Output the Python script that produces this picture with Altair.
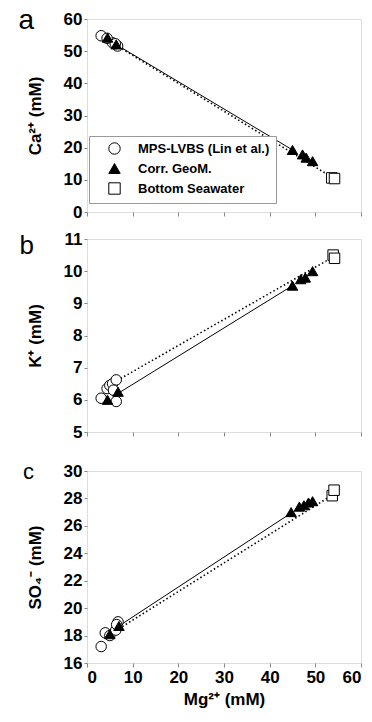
import altair as alt
import pandas as pd

SERIES = ["MPS-LVBS (Lin et al.)", "Corr. GeoM.", "Bottom Seawater"]

# ---- Panel a: Ca2+ vs Mg2+ ----
a_circ_mg = [3.1, 5.6, 6.7, 4.4, 6.2]
a_circ_val = [54.8, 52.6, 51.6, 54.0, 52.3]
a_tri_mg = [4.5, 6.4, 45.0, 47.2, 48.0, 49.4]
a_tri_val = [54.2, 52.1, 19.3, 17.9, 16.9, 15.8]
a_sq_mg = [53.6, 54.2]
a_sq_val = [10.6, 10.4]
a_solid_mg = [6.7, 45.0]
a_solid_val = [51.8, 19.3]
a_dot_mg = [3.2, 54.0]
a_dot_val = [54.6, 10.5]

# ---- Panel b: K+ vs Mg2+ ----
b_circ_mg = [3.1, 6.4, 4.4, 5.0, 5.6, 6.4, 5.8]
b_circ_val = [6.05, 5.95, 6.35, 6.45, 6.5, 6.62, 6.3]
b_tri_mg = [4.5, 6.8, 45.0, 46.8, 47.8, 49.4]
b_tri_val = [6.0, 6.25, 9.55, 9.75, 9.8, 10.0]
b_sq_mg = [53.9, 54.2]
b_sq_val = [10.5, 10.4]
b_solid_mg = [6.8, 45.0]
b_solid_val = [6.2, 9.55]
b_dot_mg = [6.6, 54.0]
b_dot_val = [6.6, 10.45]

# ---- Panel c: SO4- vs Mg2+ ----
c_circ_mg = [3.1, 4.0, 5.0, 6.3, 6.8, 6.5]
c_circ_val = [17.2, 18.2, 18.0, 18.4, 19.0, 18.8]
c_tri_mg = [5.0, 7.0, 44.7, 46.5, 47.5, 48.5, 49.4]
c_tri_val = [18.1, 18.7, 27.0, 27.4, 27.5, 27.7, 27.8]
c_sq_mg = [53.7, 54.1]
c_sq_val = [28.2, 28.6]
c_solid_mg = [7.0, 45.0]
c_solid_val = [18.7, 27.0]
c_dot_mg = [7.0, 53.5]
c_dot_val = [18.5, 28.2]

FONT = "Liberation Sans"
W = 274


def pts(cm, cv, tm, tv, sm, sv):
    rows = []
    for m, v in zip(cm, cv):
        rows.append({"Mg": m, "val": v, "series": SERIES[0]})
    for m, v in zip(tm, tv):
        rows.append({"Mg": m, "val": v, "series": SERIES[1]})
    for m, v in zip(sm, sv):
        rows.append({"Mg": m, "val": v, "series": SERIES[2]})
    return pd.DataFrame(rows)


def panel(letter, letter_size, letter_y, ytitle, ydom, ystep, height, data,
          solid, dot, show_x, show_legend):
    df = pts(*data)
    xaxis = alt.Axis(values=list(range(0, 61, 10)), domain=False, grid=False,
                     tickColor="#888", tickSize=4, labels=show_x,
                     labelFont=FONT, labelFontSize=17, labelFontWeight="bold",
                     labelColor="black", labelPadding=2,
                     titleFont=FONT, titleFontSize=17, titleFontWeight="bold",
                     titleColor="black", titlePadding=6)
    yvals = list(range(ydom[0], ydom[1] + 1, ystep))
    yaxis = alt.Axis(values=yvals, domain=False, grid=False, tickColor="#888",
                     tickSize=3, labelFont=FONT, labelFontSize=17,
                     labelFontWeight="bold", labelColor="black", labelPadding=2,
                     titleFont=FONT, titleFontSize=17, titleFontWeight="bold",
                     titleColor="black", titlePadding=19)
    x = alt.X("Mg:Q", scale=alt.Scale(domain=[0, 60], nice=False),
              axis=xaxis, title="Mg²⁺ (mM)" if show_x else None)
    y = alt.Y("val:Q", scale=alt.Scale(domain=list(ydom), nice=False, zero=False),
              axis=yaxis, title=ytitle)
    if show_legend:
        leg = alt.Legend(title=None, orient="none", legendX=2, legendY=117,
                         fillColor="white", strokeColor="#999", padding=6,
                         labelFont=FONT, labelFontSize=13, labelFontWeight="bold",
                         labelColor="black", labelOffset=17, symbolOffset=13,
                         symbolSize=130, symbolStrokeWidth=1, rowPadding=4)
    else:
        leg = None
    shape = alt.Shape("series:N", scale=alt.Scale(domain=SERIES,
                      range=["circle", "triangle-up", "square"]), legend=leg)
    fill = alt.Fill("series:N", scale=alt.Scale(domain=SERIES,
                    range=["white", "black", "white"]), legend=leg)
    stroke = alt.Stroke("series:N", scale=alt.Scale(domain=SERIES,
                        range=["black", "black", "black"]), legend=leg)
    ldf_s = pd.DataFrame({"Mg": solid[0], "val": solid[1]})
    ldf_d = pd.DataFrame({"Mg": dot[0], "val": dot[1]})
    dotted = alt.Chart(ldf_d).mark_line(color="black", strokeWidth=1.6,
                                        strokeDash=[1.5, 2.5]).encode(x=x, y=y)
    solidl = alt.Chart(ldf_s).mark_line(color="black", strokeWidth=1).encode(x=x, y=y)
    points = alt.Chart(df).mark_point(filled=True, size=110,
                                      strokeWidth=1, opacity=1).encode(
        x=x, y=y, shape=shape, fill=fill, stroke=stroke)
    lab = alt.Chart(pd.DataFrame({"t": [letter]})).mark_text(
        font=FONT, fontSize=letter_size, align="right", baseline="alphabetic",
        color="black").encode(text="t:N", x=alt.value(-53), y=alt.value(letter_y))
    return alt.layer(dotted, solidl, points, lab).properties(width=W, height=height)


pa = panel("a", 28, 10, "Ca²⁺ (mM)", (0, 60), 10, 193,
           (a_circ_mg, a_circ_val, a_tri_mg, a_tri_val, a_sq_mg, a_sq_val),
           (a_solid_mg, a_solid_val), (a_dot_mg, a_dot_val), False, True)
pb = panel("b", 26, 15, "K⁺ (mM)", (5, 11), 1, 193,
           (b_circ_mg, b_circ_val, b_tri_mg, b_tri_val, b_sq_mg, b_sq_val),
           (b_solid_mg, b_solid_val), (b_dot_mg, b_dot_val), False, False)
pc = panel("c", 22, 8, "SO₄⁻ (mM)", (16, 30), 2, 192,
           (c_circ_mg, c_circ_val, c_tri_mg, c_tri_val, c_sq_mg, c_sq_val),
           (c_solid_mg, c_solid_val), (c_dot_mg, c_dot_val), True, False)

top = alt.vconcat(pa, pb, spacing=8)
chart = alt.vconcat(top, pc, spacing=19).resolve_scale(
    shape="independent", fill="independent", stroke="independent").properties(
    padding={"left": 17, "top": 6, "right": 5, "bottom": 5}
).configure_view(stroke="#999", strokeWidth=1).configure(background="white")

chart.save("out.html", embed_options={"renderer": "svg", "actions": False})
